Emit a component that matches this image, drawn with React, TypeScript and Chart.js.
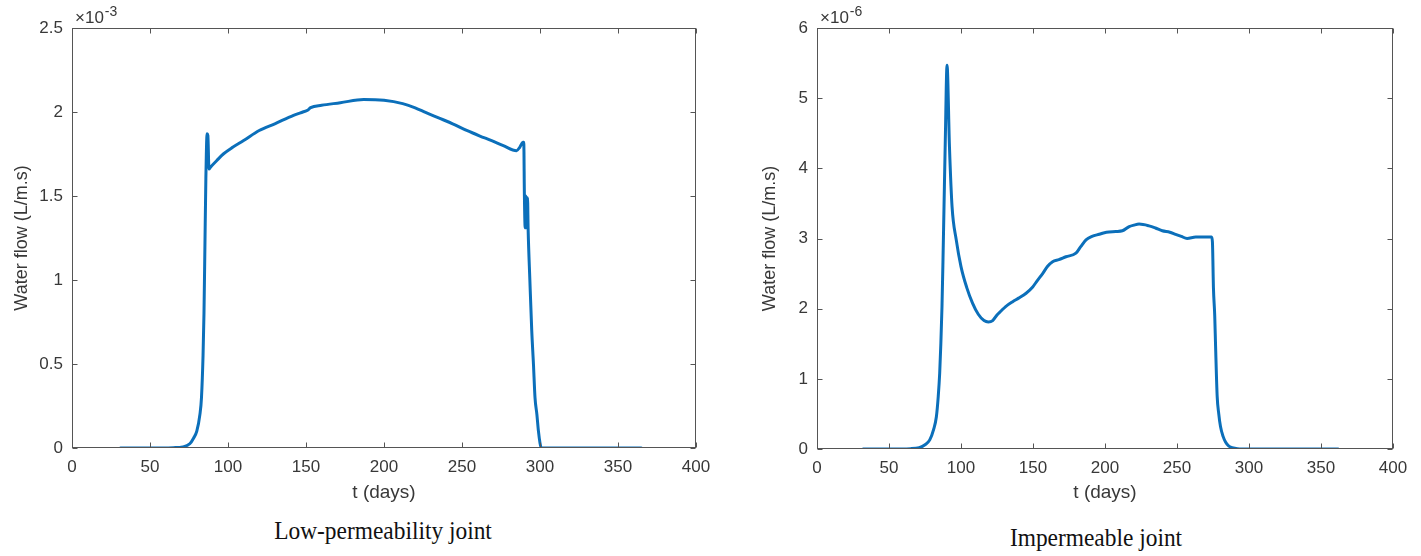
import React, { useEffect, useRef } from "react";
import { Chart, registerables } from "chart.js";

Chart.register(...registerables);

// ---- Data ----
const xTicks = [0, 50, 100, 150, 200, 250, 300, 350, 400];

// Low-permeability joint, water flow in units of 1e-3 L/m.s
const leftDays = [
  31, 50, 65, 71, 75.5, 78, 80, 82, 83, 84, 84.6, 85.2, 85.8, 86.6, 87.1, 87.8,
  88.6, 92.7, 97, 103, 110, 120, 130, 142, 148, 151, 153, 160, 172, 187, 200,
  212, 220, 227, 235, 244, 253, 261.5, 269, 276.5, 285, 287, 289, 289.6, 290,
  290.5, 291, 291.5, 292, 292.4, 293.5, 294.7, 295.8, 296.8, 298, 299, 300,
  300.8, 330, 365,
];
const leftFlow = [
  0, 0, 0.002, 0.006, 0.025, 0.06, 0.1, 0.2, 0.3, 0.55, 0.8, 1.2, 1.6, 1.87,
  1.86, 1.66, 1.67, 1.71, 1.75, 1.79, 1.83, 1.89, 1.93, 1.98, 2.0, 2.01, 2.026,
  2.04, 2.055, 2.075, 2.07, 2.05, 2.025, 1.996, 1.965, 1.93, 1.89, 1.857, 1.83,
  1.8, 1.77, 1.79, 1.82, 1.82, 1.5, 1.31, 1.5, 1.31, 1.49, 1.3, 1.0, 0.7, 0.5,
  0.3, 0.2, 0.1, 0.03, 0, 0, 0,
];
const leftYTicks = [0, 0.5, 1, 1.5, 2, 2.5];

// Impermeable joint, water flow in units of 1e-6 L/m.s
const rightDays = [
  32, 50, 65, 71, 75, 78.3, 81, 82.9, 84.2, 85.2, 86, 86.8, 87.5, 88.2, 89.1,
  90.3, 92, 93.8, 96.7, 100, 104, 108, 112, 116, 119, 122, 125, 128, 131,
  135.9, 140, 145.2, 149.8, 153, 156.7, 160, 163.6, 168, 172.9, 179.8, 183,
  186.8, 191, 196, 201, 207.5, 212.1, 216.8, 220, 223.7, 230.6, 235, 239.8, 245,
  249, 253, 257, 263, 274, 274.6, 275.3, 276.2, 276.8, 277.9, 279, 280.2, 282,
  283.7, 286, 288.3, 292, 300, 362,
];
const rightFlow = [
  0, 0, 0.005, 0.02, 0.06, 0.13, 0.28, 0.46, 0.75, 1.08, 1.5, 2.03, 2.7, 3.45,
  4.4, 5.47, 4.3, 3.45, 2.98, 2.6, 2.3, 2.08, 1.92, 1.83, 1.81, 1.83, 1.91,
  1.97, 2.03, 2.1, 2.15, 2.22, 2.31, 2.4, 2.5, 2.6, 2.67, 2.7, 2.74, 2.79, 2.88,
  2.98, 3.03, 3.06, 3.09, 3.1, 3.11, 3.17, 3.19, 3.205, 3.18, 3.15, 3.11, 3.09,
  3.06, 3.03, 3.0, 3.02, 3.02, 2.95, 2.3, 1.9, 1.46, 0.75, 0.5, 0.32, 0.18, 0.1,
  0.04, 0.02, 0.005, 0, 0,
];
const rightYTicks = [0, 1, 2, 3, 4, 5, 6];

const captions = ["Low-permeability joint", "Impermeable joint"];
const exponents = ["-3", "-6"];
const xTitle = "t (days)";
const yTitle = "Water flow (L/m.s)";

if (typeof document !== "undefined") {
  document.body.style.margin = "0";
}

const SANS = '"Liberation Sans", Arial, sans-serif';
const TEXT = "#383838";
const AXIS = "#555555";
const LINE = "#0b6fba";

const framePlugin = {
  id: "matlabFrame",
  afterDraw(chart: any, _args: any, opts: any) {
    const { ctx, chartArea: a, scales } = chart;
    ctx.save();
    ctx.strokeStyle = AXIS;
    ctx.lineWidth = 1;
    const L = Math.round(a.left) + 0.5;
    const R = Math.round(a.right) - 0.5;
    const T = Math.round(a.top) + 0.5;
    const B = Math.round(a.bottom) - 0.5;
    ctx.strokeRect(L, T, R - L, B - T);
    ctx.beginPath();
    for (const t of scales.x.ticks) {
      const px = Math.round(scales.x.getPixelForValue(t.value)) + 0.5;
      ctx.moveTo(px, B);
      ctx.lineTo(px, B - 5);
      ctx.moveTo(px, T);
      ctx.lineTo(px, T + 5);
    }
    for (const t of scales.y.ticks) {
      const py = Math.round(scales.y.getPixelForValue(t.value)) + 0.5;
      ctx.moveTo(L, py);
      ctx.lineTo(L + 5, py);
      ctx.moveTo(R, py);
      ctx.lineTo(R - 5, py);
    }
    ctx.stroke();
    ctx.fillStyle = TEXT;
    ctx.textBaseline = "alphabetic";
    ctx.textAlign = "left";
    ctx.font = "17px " + SANS;
    const base = "\u00d710";
    ctx.fillText(base, a.left + 3, a.top - 5);
    const w = ctx.measureText(base).width;
    ctx.font = "14px " + SANS;
    ctx.fillText(opts.exp, a.left + 3 + w + 1, a.top - 12);
    ctx.restore();
  },
};

type PanelProps = {
  days: number[];
  flow: number[];
  yTicks: number[];
  exp: string;
  width: number;
  height: number;
  plotLeft: number;
  plotRight: number;
  plotTop: number;
  plotBottom: number;
  yTitleCenter: number;
};

function Panel(p: PanelProps) {
  const ref = useRef<HTMLCanvasElement | null>(null);
  useEffect(() => {
    if (!ref.current) return;
    const data = p.days.map((d, i) => ({ x: d, y: p.flow[i] }));
    const chart = new Chart(ref.current, {
      type: "line",
      data: {
        datasets: [
          {
            data,
            borderColor: LINE,
            borderWidth: 3,
            pointRadius: 0,
            fill: false,
            cubicInterpolationMode: "monotone",
            borderJoinStyle: "round",
            borderCapStyle: "round",
          } as any,
        ],
      },
      options: {
        responsive: false,
        animation: false,
        events: [],
        layout: {
          padding: {
            left: 0,
            right: p.width - p.plotRight,
            top: p.plotTop,
            bottom: 0,
          },
        },
        plugins: {
          legend: { display: false },
          tooltip: { enabled: false },
          matlabFrame: { exp: p.exp },
        } as any,
        scales: {
          x: {
            type: "linear",
            min: 0,
            max: 400,
            grid: { display: false, drawTicks: false },
            border: { display: false },
            ticks: {
              padding: 9,
              color: TEXT,
              font: { family: SANS, size: 17 },
              maxRotation: 0,
              autoSkip: false,
              callback: (v: any) => String(v),
            },
            title: {
              display: true,
              text: xTitle,
              color: TEXT,
              font: { family: SANS, size: 19 },
              padding: { top: 0, bottom: 6 },
            },
            afterBuildTicks: (s: any) => {
              s.ticks = xTicks.map((v) => ({ value: v }));
            },
            afterFit: (s: any) => {
              s.height = p.height - p.plotBottom;
              s.paddingLeft = 0;
              s.paddingRight = 0;
            },
          },
          y: {
            type: "linear",
            min: p.yTicks[0],
            max: p.yTicks[p.yTicks.length - 1],
            grid: { display: false, drawTicks: false },
            border: { display: false },
            ticks: {
              padding: 9,
              color: TEXT,
              font: { family: SANS, size: 17 },
              autoSkip: false,
              callback: (v: any) => String(v),
            },
            title: {
              display: true,
              text: yTitle,
              color: TEXT,
              font: { family: SANS, size: 18 },
              padding: { top: p.yTitleCenter - 10.8, bottom: 0 },
            },
            afterBuildTicks: (s: any) => {
              s.ticks = p.yTicks.map((v) => ({ value: v }));
            },
            afterFit: (s: any) => {
              s.width = p.plotLeft;
              s.paddingTop = 0;
              s.paddingBottom = 0;
            },
          },
        },
      } as any,
      plugins: [framePlugin as any],
    });
    return () => chart.destroy();
  }, []);
  return (
    <canvas
      ref={ref}
      width={p.width}
      height={p.height}
      style={{ display: "block", width: p.width, height: p.height }}
    />
  );
}

const captionStyle = (cx: number, cy: number): React.CSSProperties => ({
  position: "absolute",
  left: cx - 250,
  width: 500,
  top: cy - 16,
  height: 32,
  lineHeight: "32px",
  textAlign: "center",
  fontFamily: '"Liberation Serif", "Times New Roman", serif',
  fontSize: 26,
  color: "#111",
  transform: "scaleX(0.9)",
  whiteSpace: "nowrap",
});

export default function App() {
  return (
    <div
      style={{
        position: "relative",
        width: 1421,
        height: 556,
        background: "#fff",
        overflow: "hidden",
      }}
    >
      <div style={{ position: "absolute", left: 0, top: 0 }}>
        <Panel
          days={leftDays}
          flow={leftFlow}
          yTicks={leftYTicks}
          exp={exponents[0]}
          width={710}
          height={510}
          plotLeft={72}
          plotRight={696}
          plotTop={28}
          plotBottom={448}
          yTitleCenter={22}
        />
      </div>
      <div style={{ position: "absolute", left: 710, top: 0 }}>
        <Panel
          days={rightDays}
          flow={rightFlow}
          yTicks={rightYTicks}
          exp={exponents[1]}
          width={711}
          height={510}
          plotLeft={107}
          plotRight={683}
          plotTop={28}
          plotBottom={449}
          yTitleCenter={60}
        />
      </div>
      <div style={captionStyle(383, 531)}>{captions[0]}</div>
      <div style={captionStyle(1096, 538)}>{captions[1]}</div>
    </div>
  );
}
